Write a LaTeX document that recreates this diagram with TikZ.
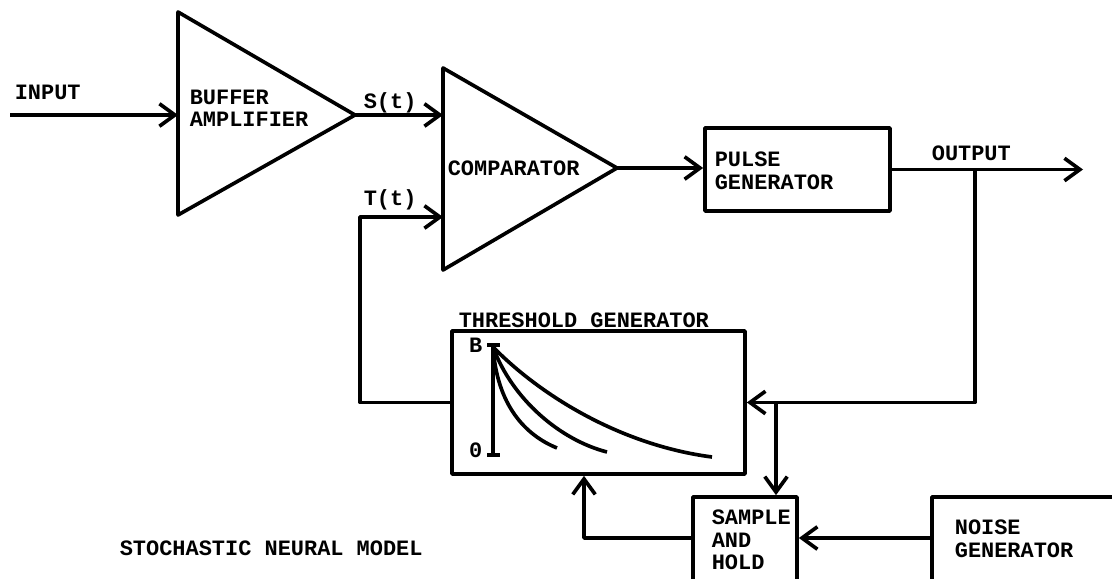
\documentclass[tikz,border=0pt]{standalone}
\usepackage{fontspec}
\setmonofont{Liberation Mono}
\usepackage{tikz}
\usetikzlibrary{arrows.meta}
\newcommand{\lblfont}{\ttfamily\bfseries\fontsize{15.6}{16}\selectfont}

\begin{document}
\begin{tikzpicture}[x=0.025cm, y=0.025cm, line width=2.6pt, line join=round,
    block/.style={draw, rectangle, line width=2.6pt, inner sep=0pt},
    lbl/.style={font=\lblfont, inner sep=0pt, anchor=west, align=left},
    conn/.style={-{Straight Barb[length=11pt, width=16pt]}, line width=2.6pt}]
    \useasboundingbox[fill=white] (0,0) rectangle (1112,579);
    \clip (0,0) rectangle (1112,579);

    % Buffer amplifier - triangle on the left
    \draw (178,567) -- (178,364) -- (355,464) -- cycle;
    \coordinate (bufin) at (178,464);
    \coordinate (bufout) at (355,464);
    \node[lbl] (buflbl) at (188,470.5) {BUFFER\\AMPLIFIER};

    % Comparator - second triangle
    \draw (443,511) -- (443,309) -- (617,411) -- cycle;
    \coordinate (comps) at (443,464);
    \coordinate (compt) at (443,362);
    \coordinate (compout) at (617,411);
    \node[lbl] (complbl) at (446,411) {COMPARATOR};

    % Pulse generator
    \node[block, minimum width=4.625cm, minimum height=2.075cm] (pulse) at (797.5,409.5) {};
    \node[lbl] (pulselbl) at (713,408) {PULSE\\GENERATOR};

    % Threshold generator with decay curves
    \node[block, minimum width=7.325cm, minimum height=3.575cm] (thr) at (598.5,176.5) {};
    \node[lbl] (thrlbl) at (457,259) {THRESHOLD GENERATOR};
    \draw (493,234) -- (493,124);
    \draw (487,234) -- (500,234);
    \draw (487,124) -- (500,124);
    \node[lbl, anchor=east] (blbl) at (484,234) {B};
    \node[lbl, anchor=east] (zlbl) at (484,129) {0};
    \draw (493,232) .. controls (497,174) and (525,144) .. (557,131);
    \draw (493,232) .. controls (512,180) and (560,139) .. (607,127);
    \draw (493,232) .. controls (540,184) and (620,134) .. (712,122);

    % Sample and hold, noise generator
    \node[block, minimum width=2.6cm, minimum height=2.6cm] (sh) at (745,30) {};
    \node[lbl] (shlbl) at (710,39) {SAMPLE\\AND\\HOLD};
    \node[block, minimum width=4.95cm, minimum height=2.6cm] (noise) at (1031,30) {};
    \node[lbl] (noiselbl) at (953,40) {NOISE\\GENERATOR};

    % Free labels
    \node[lbl] (inlbl) at (13,487) {INPUT};
    \node[lbl] (slbl) at (362,476) {S(t)};
    \node[lbl] (tlbl) at (362,379) {T(t)};
    \node[lbl] (outlbl) at (930,426) {OUTPUT};
    \node[lbl] (title) at (118,31) {STOCHASTIC NEURAL MODEL};

    % Helper coordinates
    \coordinate (instart) at (10,464);
    \coordinate (outend) at (1083,409.5);
    \coordinate (branch) at (975,409.5);
    \coordinate (tloop) at (360,0);
    \coordinate (tap) at (776,0);
    \coordinate (ret) at (584,0);
    \coordinate (lvl) at (0,41);

    % Forward path
    \draw[conn] (instart) -- (bufin);
    \draw[conn] (bufout) -- (comps);
    \draw[conn] (compout) -- (compout -| pulse.west);
    \draw[conn] (pulse.east) -- (outend);

    % Feedback paths
    \draw[conn] (branch) |- (thr.east);
    \draw[conn] (thr.west) -- (thr.west -| tloop) |- (compt);
    \draw[conn] (thr.east -| tap) -- (sh.north -| tap);
    \draw[conn] (noise.west |- lvl) -- (sh.east |- lvl);
    \draw[conn] (sh.west |- lvl) -| (thr.south -| ret);
\end{tikzpicture}
\end{document}
